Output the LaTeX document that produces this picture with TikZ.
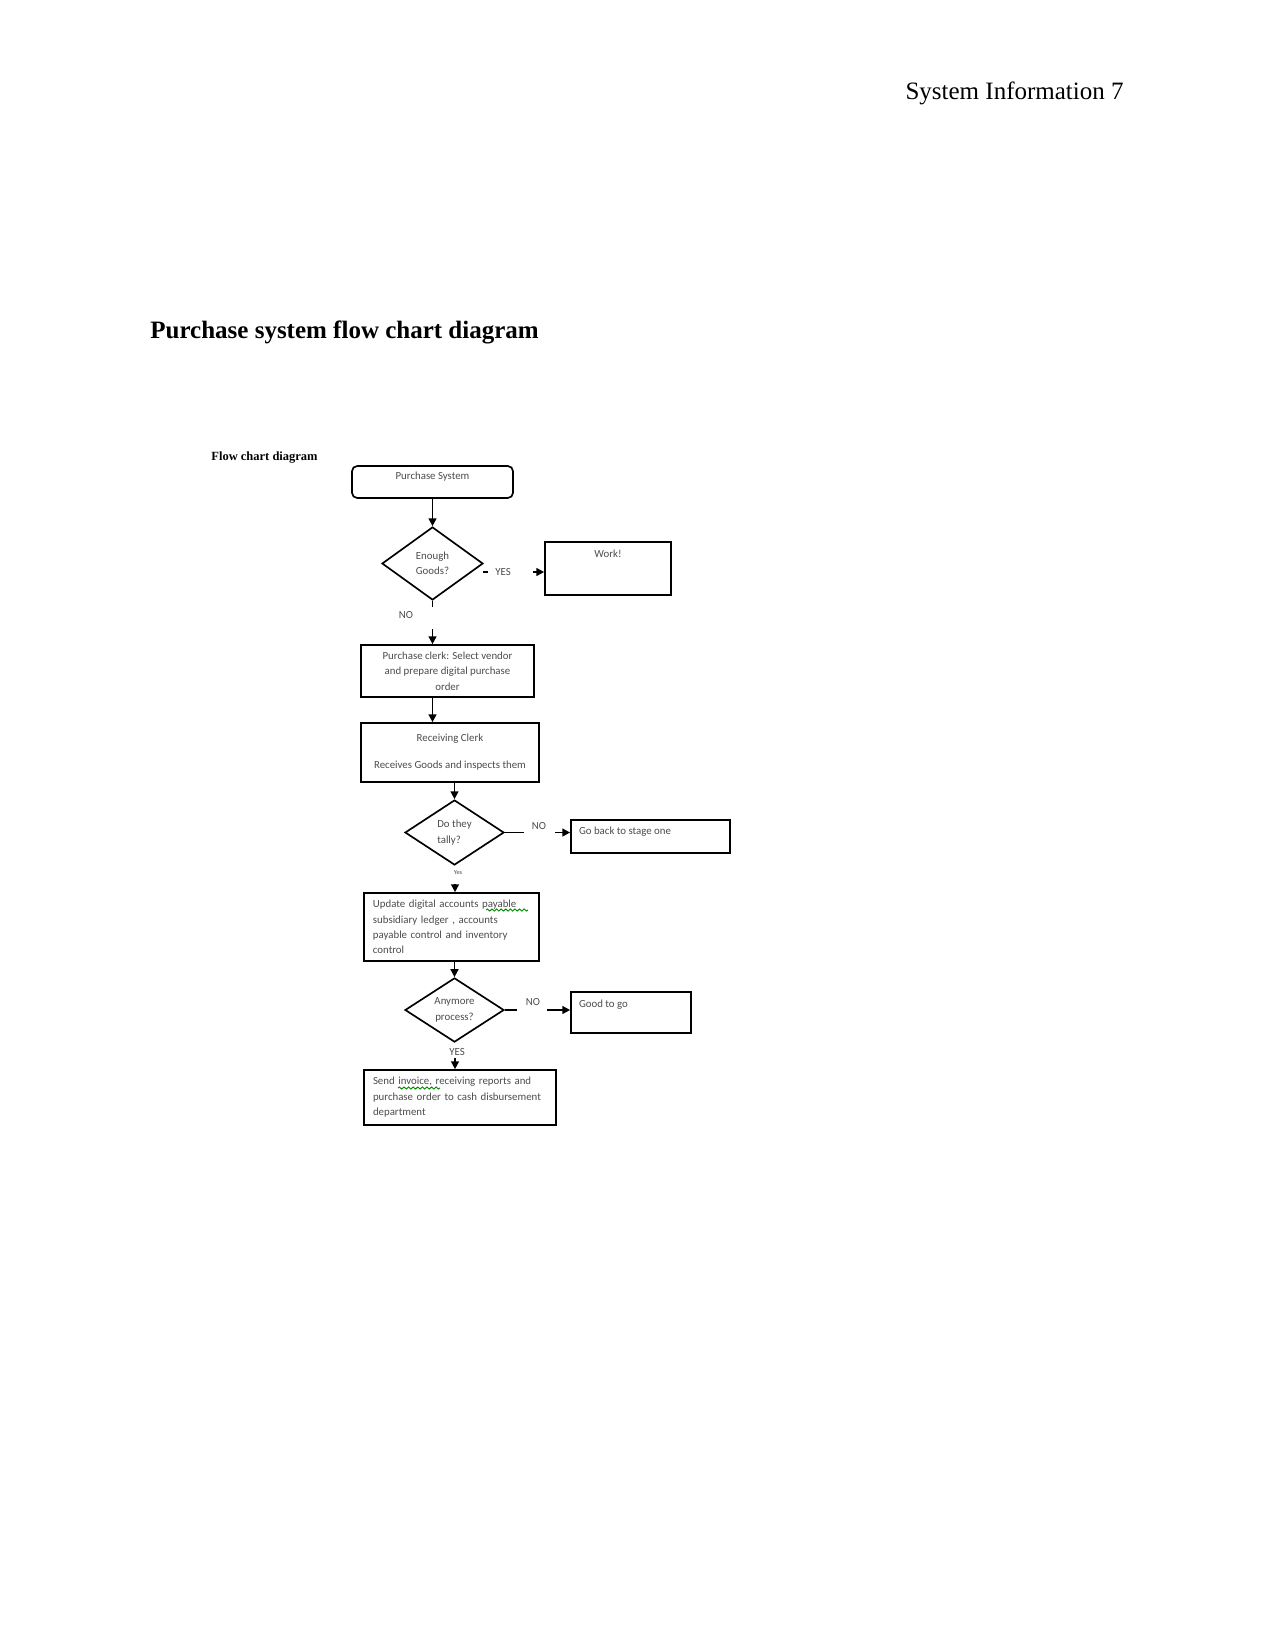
\documentclass[tikz,border=0pt]{standalone}
\usepackage{fontspec}
\setmainfont{Liberation Serif}
\newfontfamily\flowfont{Carlito}
\usetikzlibrary{shapes.geometric,arrows.meta,decorations.pathmorphing}
\def\pxu{0.48pt}
\newcommand\rtext[2]{\raisebox{#1}[0pt][0pt]{#2}}
\begin{document}
\begin{tikzpicture}[x=0.48pt,y=-0.48pt,
  flow/.style={font=\flowfont\fontsize{5.2}{7.4}\selectfont, text=black!70},
  box/.style={flow, draw, line width=0.8pt, inner sep=0pt},
  dia/.style={flow, draw, shape=diamond, line width=0.8pt, inner sep=0pt, align=center},
  lab/.style={flow, inner sep=0pt},
  tiny/.style={font=\flowfont\fontsize{3}{3.5}\selectfont, text=black!70, inner sep=0pt},
  ln/.style={line width=0.8pt},
  arr/.style={line width=0.8pt, -{Triangle[length=3.8pt,width=3.8pt]}},
  spell/.style={decorate, decoration={snake, amplitude=0.5pt, segment length=2.2pt}, green!55!black, line width=0.45pt}
]
\fill[white] (0,0) rectangle (1275,1651);
\useasboundingbox (0,0) rectangle (1275,1651);

% page texts
\node[anchor=base east, font=\fontsize{12}{14}\selectfont, inner sep=0pt] (hdr) at (1124,100) {System Information 7};
\node[anchor=base west, font=\bfseries\fontsize{12}{14}\selectfont, inner sep=0pt] (title) at (150,338) {Purchase system flow chart diagram};
\node[anchor=base west, font=\bfseries\fontsize{6}{7}\selectfont, inner sep=0pt] (fcd) at (211,460) {Flow chart diagram};

% nodes
\node[box, rounded corners=2.5pt, minimum width=161*\pxu, minimum height=32*\pxu] (ps) at (432.5,482) {\rtext{1pt}{Purchase System}};
\node[dia, minimum width=101*\pxu, minimum height=73*\pxu] (d1) at (432.5,563.5) {Enough\\Goods?};
\node[box, minimum width=126*\pxu, minimum height=53*\pxu] (work) at (608,568.5) {\rtext{5.5pt}{Work!}};
\node[box, minimum width=173*\pxu, minimum height=52*\pxu, align=center] (clerk) at (447.5,671) {Purchase clerk: Select  vendor\\and prepare digital purchase\\order};
\node[box, minimum width=178*\pxu, minimum height=59*\pxu, align=center] (recv) at (450,752.5) {Receiving Clerk\\[5.5pt]Receives  Goods  and  inspects  them};
\node[dia, minimum width=99*\pxu, minimum height=65*\pxu, align=left] (d2) at (454.5,832.5) {Do they\\tally?};
\node[box, minimum width=159*\pxu, minimum height=33*\pxu] (gob) at (650.5,836.5) {\rtext{1.2pt}{\makebox[68.6pt][l]{Go back to stage one}}};
\node[box, minimum width=175*\pxu, minimum height=68*\pxu, text width=75.4pt, inner xsep=9*\pxu, align=left] (upd) at (451.5,927) {Update digital accounts payable\\subsidiary ledger , accounts\\payable control and inventory\\control};
\node[dia, minimum width=99*\pxu, minimum height=62*\pxu] (d3) at (454.5,1010) {Anymore\\process?};
\node[box, minimum width=120*\pxu, minimum height=41*\pxu] (good) at (631,1012.5) {\rtext{2.6pt}{\makebox[49.9pt][l]{Good to go}}};
\node[box, minimum width=192*\pxu, minimum height=55*\pxu, text width=83.5pt, inner xsep=9*\pxu, align=left] (send) at (460,1097.5) {Send invoice, receiving reports  and\\purchase order to cash disbursement\\department};

% spelling marks
\draw[spell] (486,910) -- (528,910);
\draw[spell] (398,1088) -- (440,1088);

% connectors
\draw[arr] (ps.south) -- (d1.north);

\coordinate (yA) at (483,572);
\draw[ln] (yA) -- ++(4.5,0);
\node[lab] (yes1) at (503,572) {YES};
\coordinate (yB) at (533,572);
\draw[arr] (yB) -- (yB -| work.west);

\draw[ln] (d1.south) -- ++(0,6);
\node[lab] (no1) at (406,615) {NO};
\coordinate (nA) at (432.5,629);
\draw[arr] (nA) -- (nA |- clerk.north);

\draw[arr] (clerk.south -| d1.south) -- (recv.north -| d1.south);
\draw[arr] (recv.south -| d2.north) -- (d2.north);

\draw[ln] (d2.east) -- ++(19,0);
\node[lab] (no2) at (539,826) {NO};
\coordinate (n2) at (555,832.5);
\draw[arr] (n2) -- (n2 -| gob.west);

\node[tiny] (yes2) at (458,873) {Yes};
\coordinate (y2) at (455,884);
\draw[arr] (y2) -- (y2 |- upd.north);

\draw[arr] (upd.south -| d3.north) -- (d3.north);

\draw[ln] (d3.east) -- ++(12,0);
\node[lab] (no3) at (533,1002) {NO};
\coordinate (n3) at (547,1010);
\draw[arr] (n3) -- (n3 -| good.west);

\node[lab] (yes3) at (457,1052) {YES};
\coordinate (y3) at (455,1058);
\draw[arr] (y3) -- (y3 |- send.north);
\end{tikzpicture}
\end{document}
